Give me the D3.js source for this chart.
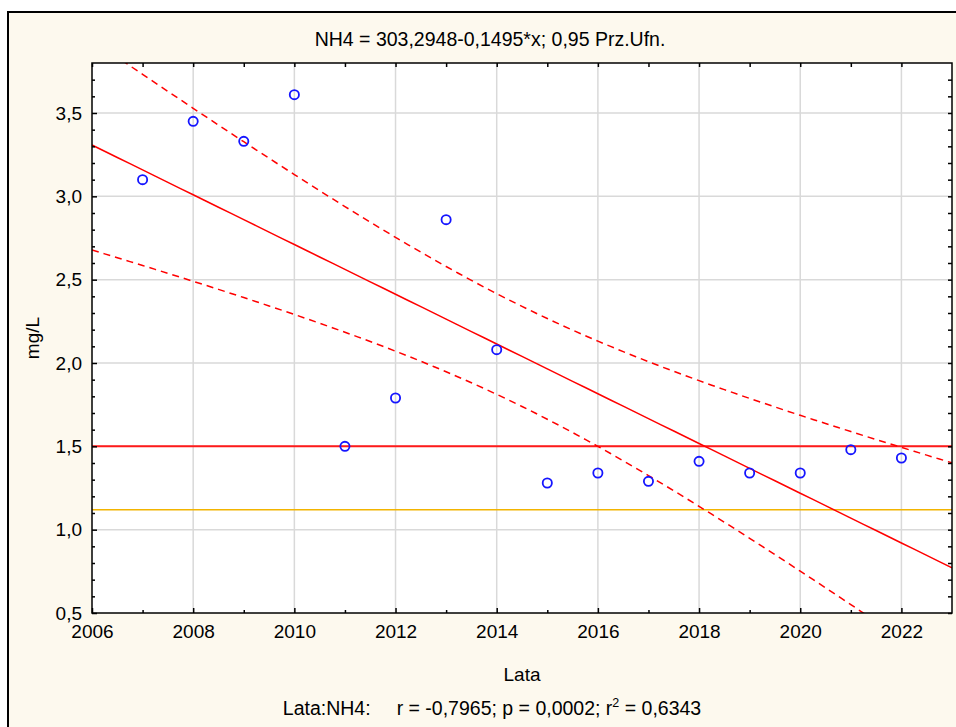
<!DOCTYPE html>
<html>
<head>
<meta charset="utf-8">
<script src="https://cdn.jsdelivr.net/npm/d3@7"></script>
<style>
  body { margin: 0; background: #fff; }
  svg { display: block; font-family: "Liberation Sans", Arial, sans-serif; }
</style>
</head>
<body>
<svg id="chart" width="956" height="727"></svg>
<script>
// data
const years = [2007, 2008, 2009, 2010, 2011, 2012, 2013, 2014, 2015, 2016, 2017, 2018, 2019, 2020, 2021, 2022];
const nh4 = [3.10, 3.45, 3.33, 3.61, 1.50, 1.79, 2.86, 2.08, 1.28, 1.34, 1.29, 1.41, 1.34, 1.34, 1.48, 1.43];
const limitRed = 1.5;
const limitYellow = 1.12;
const xTicks = [2006, 2008, 2010, 2012, 2014, 2016, 2018, 2020, 2022];
const yTicks = [0.5, 1.0, 1.5, 2.0, 2.5, 3.0, 3.5];
const titleText = 'NH4 = 303,2948-0,1495*x; 0,95 Prz.Ufn.';
const statsLead = 'Lata:NH4:';
const statsText = 'r = -0,7965; p = 0,0002; r';
const statsTail = ' = 0,6343';

const margin = { top: 63, left: 92, right: 4, bottom: 114 };
const W = 956, H = 727;
const plotW = W - margin.left - margin.right;
const plotH = H - margin.top - margin.bottom;

const svg = d3.select('#chart');

// cream frame
svg.append('rect')
  .attr('x', 8).attr('y', 12)
  .attr('width', 980).attr('height', 740)
  .attr('fill', '#fdf9ee')
  .attr('stroke', '#000').attr('stroke-width', 2);

const x = d3.scaleLinear().domain([2006, 2023]).range([0, plotW]);
const y = d3.scaleLinear().domain([0.5, 3.8]).range([plotH, 0]);

const g = svg.append('g').attr('transform', `translate(${margin.left},${margin.top})`);

g.append('rect').attr('width', plotW).attr('height', plotH).attr('fill', '#fff');

g.append('clipPath').attr('id', 'clip')
  .append('rect').attr('width', plotW).attr('height', plotH);

// grid
g.append('g').selectAll('line').data(xTicks.slice(1)).join('line')
  .attr('x1', d => x(d)).attr('x2', d => x(d))
  .attr('y1', 0).attr('y2', plotH)
  .attr('stroke', '#d9d9d9').attr('stroke-width', 1.5);
g.append('g').selectAll('line').data(yTicks.slice(1)).join('line')
  .attr('y1', d => y(d)).attr('y2', d => y(d))
  .attr('x1', 0).attr('x2', plotW)
  .attr('stroke', '#d9d9d9').attr('stroke-width', 1.5);

// linear fit + 95% confidence band
const n = years.length;
const mx = d3.mean(years), my = d3.mean(nh4);
const sxx = d3.sum(years, d => (d - mx) ** 2);
const sxy = d3.sum(years, (d, i) => (d - mx) * (nh4[i] - my));
const slope = sxy / sxx;
const icpt = my - slope * mx;
const sres = Math.sqrt(d3.sum(years, (d, i) => (nh4[i] - (icpt + slope * d)) ** 2) / (n - 2));
const tval = 2.1448; // t(0.975, 14)

const xs = d3.range(2006, 2023.001, 0.25);
const fit = xs.map(v => [v, icpt + slope * v]);
const half = v => tval * sres * Math.sqrt(1 / n + (v - mx) ** 2 / sxx);
const upper = xs.map(v => [v, icpt + slope * v + half(v)]);
const lower = xs.map(v => [v, icpt + slope * v - half(v)]);

const line = d3.line().x(d => x(d[0])).y(d => y(d[1]));
const lines = g.append('g').attr('clip-path', 'url(#clip)');

lines.append('line')
  .attr('x1', 0).attr('x2', plotW)
  .attr('y1', y(limitYellow)).attr('y2', y(limitYellow))
  .attr('stroke', '#f2b400').attr('stroke-width', 1.5);
lines.append('line')
  .attr('x1', 0).attr('x2', plotW)
  .attr('y1', y(limitRed)).attr('y2', y(limitRed))
  .attr('stroke', '#ff1a1a').attr('stroke-width', 2);

lines.append('path').datum(fit).attr('d', line)
  .attr('fill', 'none').attr('stroke', '#ff0000').attr('stroke-width', 1.5);
[upper, lower].forEach(b => {
  lines.append('path').datum(b).attr('d', line)
    .attr('fill', 'none').attr('stroke', '#ff0000').attr('stroke-width', 1.5)
    .attr('stroke-dasharray', '7,5');
});

// points
g.append('g').selectAll('circle').data(years).join('circle')
  .attr('cx', d => x(d))
  .attr('cy', (d, i) => y(nh4[i]))
  .attr('r', 4.6)
  .attr('fill', 'none')
  .attr('stroke', '#1515ff')
  .attr('stroke-width', 1.8);

// axes: ticks inward on all four sides
const fmt = d => d3.format('.1f')(d).replace('.', ',');
const xMinor = d3.range(2007, 2023, 2);
const yMinor = d3.range(0.6, 3.8, 0.1).filter(v => Math.abs(v * 2 - Math.round(v * 2)) > 0.01);

const axisStyle = sel => {
  sel.select('.domain').remove();
  sel.selectAll('line').attr('stroke', '#000').attr('stroke-width', 1.5);
  sel.selectAll('text').attr('fill', '#000').style('font-size', '19px');
};

g.append('g').attr('transform', `translate(0,${plotH})`)
  .call(d3.axisBottom(x).tickValues(xTicks).tickSize(-5).tickPadding(12).tickFormat(d3.format('d')))
  .call(axisStyle);
g.append('g').attr('transform', `translate(0,${plotH})`)
  .call(d3.axisBottom(x).tickValues(xMinor).tickSize(-3).tickFormat(''))
  .call(axisStyle);
g.append('g')
  .call(d3.axisTop(x).tickValues(xTicks.concat(xMinor)).tickSize(-4).tickFormat(''))
  .call(axisStyle);

g.append('g')
  .call(d3.axisLeft(y).tickValues(yTicks).tickSize(-5).tickPadding(10).tickFormat(fmt))
  .call(axisStyle);
g.append('g')
  .call(d3.axisLeft(y).tickValues(yMinor).tickSize(-3).tickFormat(''))
  .call(axisStyle);
g.append('g').attr('transform', `translate(${plotW},0)`)
  .call(d3.axisRight(y).tickValues(yTicks.concat(yMinor)).tickSize(-4).tickFormat(''))
  .call(axisStyle);

g.append('rect').attr('width', plotW).attr('height', plotH)
  .attr('fill', 'none').attr('stroke', '#000').attr('stroke-width', 1.5);

// texts
svg.append('text')
  .attr('x', 490).attr('y', 46)
  .attr('text-anchor', 'middle')
  .style('font-size', '19.5px')
  .text(titleText);

svg.append('text')
  .attr('x', margin.left + plotW / 2).attr('y', 681)
  .attr('text-anchor', 'middle')
  .style('font-size', '19px')
  .text('Lata');

svg.append('text')
  .attr('transform', `translate(39,${margin.top + plotH / 2}) rotate(-90)`)
  .attr('text-anchor', 'middle')
  .style('font-size', '19px')
  .text('mg/L');

const stats = svg.append('text')
  .attr('x', 492).attr('y', 715)
  .attr('text-anchor', 'middle')
  .style('font-size', '19.5px');
stats.append('tspan').text(statsLead);
stats.append('tspan').attr('dx', 26).text(statsText);
stats.append('tspan').attr('dy', -8).style('font-size', '12.5px').text('2');
stats.append('tspan').attr('dy', 8).text(statsTail);
</script>
</body>
</html>
